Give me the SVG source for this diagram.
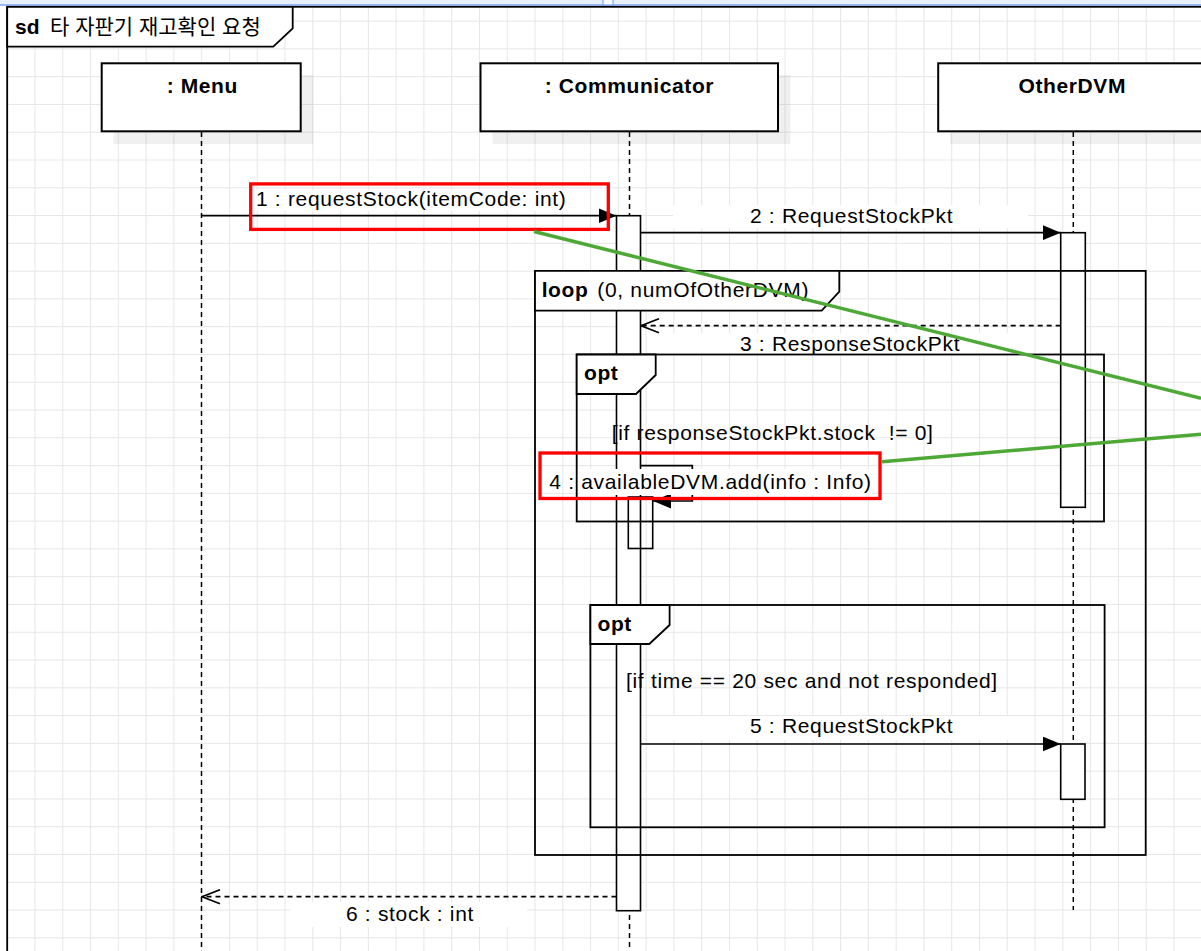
<svg xmlns="http://www.w3.org/2000/svg" width="1201" height="951" viewBox="0 0 1201 951">
<defs>
<style>
.ln{stroke:#000;stroke-width:1.7;fill:none}
.life{stroke:#000;stroke-width:1.5;fill:none;stroke-dasharray:5 4}
.dsh{stroke-dasharray:5 4}
.box{fill:#fff;stroke:#000;stroke-width:2}
.frm{fill:none;stroke:#000;stroke-width:1.8}
.tab{fill:#fff;stroke:#000;stroke-width:1.8}
.bar{fill:#fff;stroke:#000;stroke-width:1.6}
.bg{fill:#fff}
.t{font-family:"Liberation Sans",Arial,sans-serif;font-size:21px;letter-spacing:0.68px;fill:#000;white-space:pre}
.b{font-weight:bold;letter-spacing:0.6px}
.kr{font-family:"Liberation Sans","Noto Sans CJK KR",sans-serif;font-size:21px;fill:#000}
.red{fill:none;stroke:#ff0000;stroke-width:3.3}
.grn{stroke:#4ea835;stroke-width:3.5;fill:none}
.shadow{fill:#000;opacity:0.06}
</style>
<pattern id="grid" x="6.7" y="20.6" width="27.78" height="27.78" patternUnits="userSpaceOnUse">
<path d="M0.5 0V27.78M0 0.5H27.78" stroke="#e6e6e6" stroke-width="1" fill="none"/>
</pattern>
<marker id="af" viewBox="0 0 18 15" refX="18" refY="7.5" markerWidth="18" markerHeight="15" markerUnits="userSpaceOnUse" orient="auto">
<path d="M0,0 L18,7.5 L0,15 Z" fill="#000"/>
</marker>
<marker id="ao" viewBox="0 0 20 16" refX="19" refY="8" markerWidth="20" markerHeight="16" markerUnits="userSpaceOnUse" orient="auto">
<path d="M1,1 L19,8 L1,15" fill="none" stroke="#000" stroke-width="1.6"/>
</marker>
</defs>

<!-- window chrome -->
<rect x="0" y="0" width="1201" height="951" fill="#fff"/>
<rect x="0" y="0" width="1201" height="5" fill="#e8f0fe"/>
<line x1="0" y1="5" x2="1201" y2="5" stroke="#7aa7f0" stroke-width="1.4"/>
<rect x="603" y="-1" width="10" height="6" fill="#fff" stroke="#7aa7f0" stroke-width="1.2"/>

<!-- grid -->
<rect x="7" y="7" width="1194" height="944" fill="url(#grid)"/>

<!-- sd frame -->
<g id="frame-sd">
<rect x="7.2" y="6.8" width="1210" height="960" class="frm"/>
<polygon points="7.2,6.8 292.7,6.8 292.7,28.3 273.3,46.7 7.2,46.7" class="tab"/>
<text x="15" y="34" class="t b" style="letter-spacing:0">sd</text>
<text x="50" y="34" class="kr">타 자판기 재고확인 요청</text>
</g>

<!-- lifelines -->
<g id="lifelines">
<line x1="201.5" y1="132" x2="201.5" y2="951" class="life"/>
<line x1="629.5" y1="132" x2="629.5" y2="951" class="life"/>
<line x1="1073.3" y1="132" x2="1073.3" y2="910" class="life"/>
</g>

<!-- participants -->
<g id="node-menu">
<rect x="113.5" y="75" width="200" height="69" class="shadow"/>
<rect x="101.7" y="63.3" width="199" height="68" class="box"/>
<text x="166.7" y="92.7" class="t b">: Menu</text>
</g>
<g id="node-communicator">
<rect x="492.5" y="75" width="298" height="69" class="shadow"/>
<rect x="480.5" y="63.3" width="297.5" height="68" class="box"/>
<text x="544.7" y="92.7" class="t b">: Communicator</text>
</g>
<g id="node-otherdvm">
<rect x="950" y="75" width="270" height="69" class="shadow"/>
<rect x="938.2" y="63.3" width="270" height="68" class="box"/>
<text x="1018.6" y="92.7" class="t b">OtherDVM</text>
</g>

<!-- activations -->
<g id="activations">
<rect x="616.5" y="215.7" width="24" height="695" class="bar"/>
<rect x="628.3" y="497" width="24.4" height="51.5" fill="none" stroke="#000" stroke-width="1.6"/>
<rect x="1060.7" y="232.7" width="24.6" height="274.6" class="bar"/>
<rect x="1060.7" y="744" width="24.3" height="55.3" class="bar"/>
</g>

<!-- connectors -->
<g id="connectors">
<rect x="230" y="190" width="360" height="21" class="bg"/>
<line x1="201.5" y1="215.7" x2="616.5" y2="215.7" class="ln" marker-end="url(#af)"/>
<text x="256" y="205.7" class="t">1 : requestStock(itemCode: int)</text>

<rect x="673" y="205" width="355" height="23" class="bg"/>
<line x1="640.5" y1="232.7" x2="1060.7" y2="232.7" class="ln" marker-end="url(#af)"/>
<text x="750" y="223.3" class="t">2 : RequestStockPkt</text>

<rect x="673" y="333" width="355" height="20" class="bg"/>
<line x1="1060.7" y1="325.7" x2="641" y2="325.7" class="ln dsh" marker-end="url(#ao)"/>
<text x="740" y="350.7" class="t">3 : ResponseStockPkt</text>

<path d="M640.5,465.7 H692.3 V501 H653" class="ln" marker-end="url(#af)"/>

<rect x="673" y="716" width="355" height="24" class="bg"/>
<line x1="641" y1="744" x2="1060.7" y2="744" class="ln" marker-end="url(#af)"/>
<text x="750" y="733.3" class="t">5 : RequestStockPkt</text>

<rect x="290" y="902" width="237" height="25" class="bg"/>
<line x1="616.5" y1="896.7" x2="202" y2="896.7" class="ln dsh" marker-end="url(#ao)"/>
<text x="346" y="921" class="t">6 : stock : int</text>
</g>

<!-- combined fragments -->
<g id="frag-loop">
<rect x="535" y="270.9" width="610.7" height="584.1" class="frm"/>
<polygon points="535,270.9 839.3,270.9 839.3,291.7 821.7,310.7 535,310.7" class="tab"/>
<text x="541.7" y="297.3" class="t b">loop</text>
<text x="597.3" y="297.3" class="t">(0, numOfOtherDVM)</text>
</g>
<g id="frag-opt1">
<rect x="576.7" y="354.5" width="527.3" height="167" class="frm"/>
<polygon points="576.7,354.5 655.7,354.5 655.7,375 636,394 576.7,394" class="tab"/>
<text x="584" y="380" class="t b">opt</text>
<text x="611.7" y="440" class="t">[if responseStockPkt.stock  != 0]</text>
</g>
<g id="label-4">
<rect x="579.5" y="469" width="292" height="26" class="bg"/>
<text x="549.3" y="489.3" class="t">4 : availableDVM.add(info : Info)</text>
</g>
<g id="frag-opt2">
<rect x="590.4" y="605" width="514.2" height="222.3" class="frm"/>
<polygon points="590.4,605 669.6,605 669.6,625 649.3,644 590.4,644" class="tab"/>
<text x="597.5" y="630.7" class="t b">opt</text>
<text x="626" y="688.3" class="t">[if time == 20 sec and not responded]</text>
</g>

<!-- annotations -->
<g id="annotations">
<rect x="250.7" y="183.9" width="357.6" height="45.5" class="red"/>
<rect x="540" y="453" width="340" height="45.5" class="red"/>
<line x1="534" y1="231.5" x2="1201" y2="398.3" class="grn"/>
<line x1="882" y1="461.7" x2="1201" y2="434.3" class="grn"/>
</g>
</svg>
